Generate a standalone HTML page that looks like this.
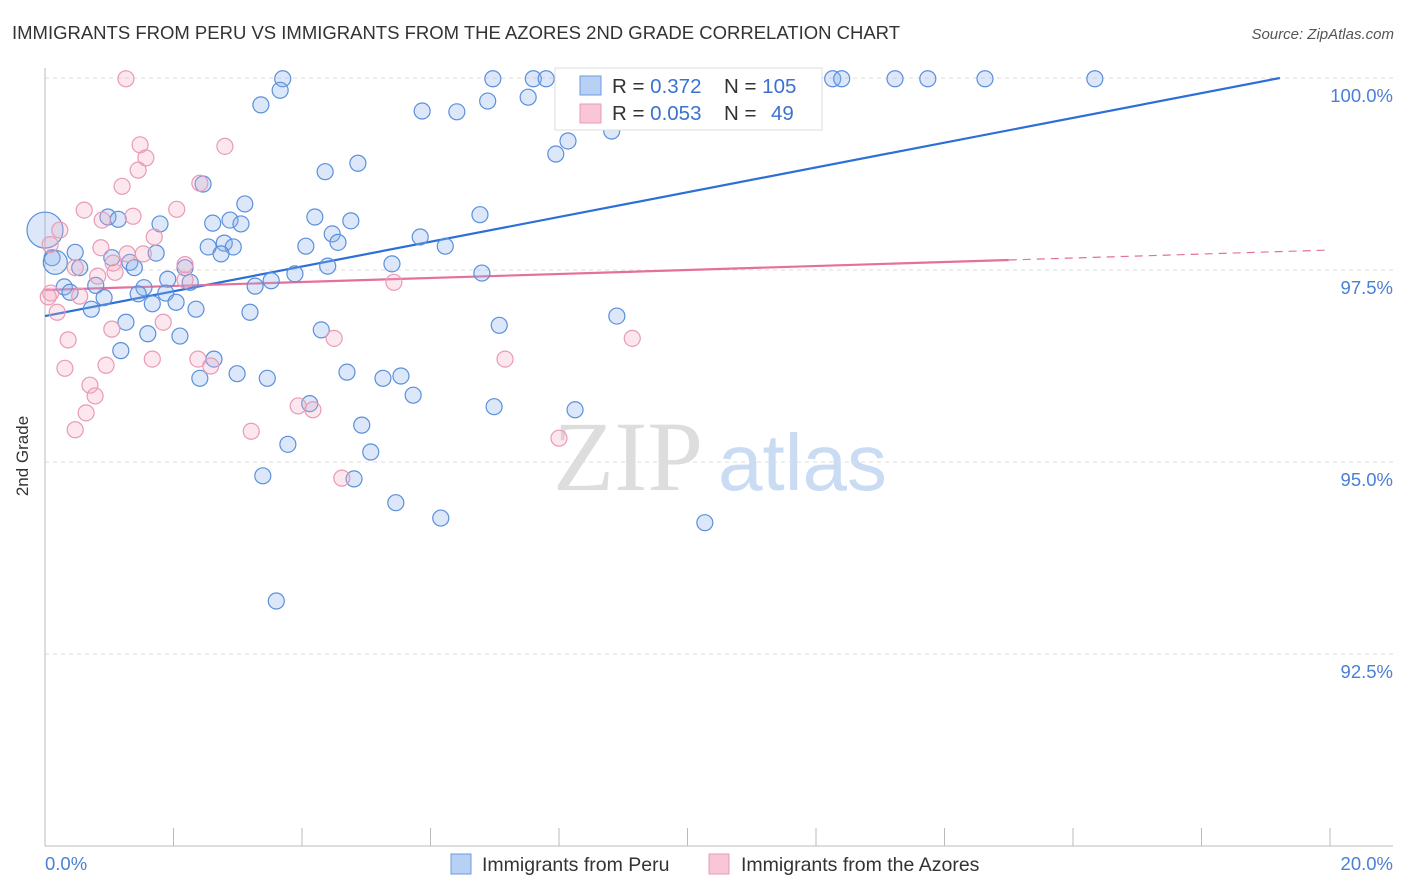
<!DOCTYPE html>
<html><head><meta charset="utf-8">
<style>
body{margin:0;background:#fff;font-family:"Liberation Sans",sans-serif;}
svg{display:block}
</style></head>
<body>
<svg id="chart" width="1406" height="892" xmlns="http://www.w3.org/2000/svg">
<text x="12" y="39" font-size="18.5" fill="#333" textLength="888" lengthAdjust="spacingAndGlyphs">IMMIGRANTS FROM PERU VS IMMIGRANTS FROM THE AZORES 2ND GRADE CORRELATION CHART</text>
<text x="1394" y="39" font-size="15" fill="#555" font-style="italic" text-anchor="end">Source: ZipAtlas.com</text>
<g>
<text x="553" y="490" font-size="100" fill="#ddd" font-family="Liberation Serif,serif">ZIP</text>
<text x="718" y="490" font-size="80" fill="#c9dcf3">atlas</text>
</g>
<g id="grid"></g>
<g id="axes"></g>
<g id="trend"></g>
<g id="pts"></g>
<text x="28" y="456" font-size="17" fill="#333" transform="rotate(-90 28 456)" text-anchor="middle">2nd Grade</text>
<g>
<rect x="555" y="68" width="267" height="62" fill="#fff" stroke="#ddd"/>
<rect x="580" y="76" width="21" height="19" fill="#b7d0f3" stroke="#6d9be0"/>
<rect x="580" y="104" width="21" height="19" fill="#f8c6d6" stroke="#e99ab5"/>
<text x="612" y="93" font-size="20.5" fill="#333">R = <tspan fill="#3b72d0">0.372</tspan><tspan x="724">N = </tspan><tspan fill="#3b72d0">105</tspan></text>
<text x="612" y="120" font-size="20.5" fill="#333">R = <tspan fill="#3b72d0">0.053</tspan><tspan x="724">N = </tspan><tspan x="771" fill="#3b72d0">49</tspan></text>
</g>
<g>
<rect x="451" y="854" width="20" height="20" fill="#b7d0f3" stroke="#6d9be0"/>
<text x="482" y="871" font-size="19.5" fill="#333">Immigrants from Peru</text>
<rect x="709" y="854" width="20" height="20" fill="#f8c6d6" stroke="#e99ab5"/>
<text x="741" y="871" font-size="19.5" fill="#333">Immigrants from the Azores</text>
</g>
</svg>
<script>
const blueX=[3.70,6.97,7.60,7.80,9.53,12.26,12.40,13.23,13.74,14.63,16.34,3.66,7.52,6.89,3.36,5.87,6.41,8.82,8.14,7.95,4.87,4.36,2.46,3.11,0.98,1.14,4.20,4.76,6.77,2.61,2.88,1.79,3.05,4.47,5.84,4.56,4.06,2.79,2.93,2.54,6.23,2.74,1.73,0.47,0.11,1.04,1.32,5.40,4.40,0.54,1.39,2.18,3.89,6.80,3.52,1.91,2.26,3.27,0.30,0.79,0.39,1.54,1.45,0.92,1.88,2.04,1.67,0.72,2.35,3.19,1.26,7.07,8.90,4.30,1.60,2.10,1.18,2.63,2.99,2.41,3.46,4.70,5.26,5.54,5.73,6.99,4.12,8.25,4.93,3.78,5.07,3.39,4.81,5.46,6.16,10.27,3.60];
const blueY=[99.99,99.99,99.99,99.99,99.99,99.99,99.99,99.99,99.99,99.99,99.99,99.84,99.75,99.70,99.65,99.57,99.56,99.31,99.18,99.01,98.89,98.78,98.62,98.36,98.19,98.16,98.19,98.14,98.22,98.11,98.15,98.10,98.10,97.97,97.93,97.86,97.81,97.85,97.80,97.80,97.81,97.71,97.72,97.73,97.66,97.66,97.60,97.58,97.55,97.53,97.53,97.53,97.45,97.46,97.36,97.38,97.34,97.29,97.28,97.30,97.21,97.27,97.19,97.14,97.20,97.08,97.06,96.99,96.99,96.95,96.82,96.78,96.90,96.72,96.67,96.64,96.45,96.34,96.15,96.09,96.09,96.17,96.09,96.12,95.87,95.72,95.76,95.68,95.48,95.23,95.13,94.82,94.78,94.47,94.27,94.21,93.19];
const blueBigX=[0.0,0.16];
const blueBigY=[98.02,97.60];
const blueBigR=[18,12];
const pinkX=[1.26,1.48,1.57,2.80,1.45,1.20,2.41,0.61,2.05,1.37,0.89,0.23,0.08,1.70,0.87,1.28,1.53,1.06,2.18,0.47,0.82,1.09,2.18,0.09,0.54,0.19,1.84,1.04,4.50,0.36,9.14,1.67,2.38,0.95,2.58,0.31,7.16,5.43,0.70,0.78,3.94,4.17,0.64,0.47,3.21,8.00,4.62,0.05];
const pinkY=[99.99,99.13,98.96,99.11,98.80,98.59,98.63,98.28,98.29,98.20,98.15,98.02,97.83,97.93,97.79,97.71,97.71,97.59,97.57,97.53,97.42,97.47,97.37,97.20,97.16,96.95,96.82,96.73,96.61,96.59,96.61,96.34,96.34,96.26,96.25,96.22,96.34,97.34,96.00,95.86,95.73,95.68,95.64,95.42,95.40,95.31,94.79,97.15];
const yTicks=[100,97.5,95,92.5];
const yTickLabels=["100.0%","97.5%","95.0%","92.5%"];
const xTicks=[0,2,4,6,8,10,12,14,16,18,20];
const blueTrend=[96.90,100.0,19.22];
const pinkTrend=[97.24,97.76,15];

const NS="http://www.w3.org/2000/svg";
const X=v=>45+v*64.25;
const Y=v=>78+(100-v)*76.8;
function mk(parent,tag,attrs){const e=document.createElementNS(NS,tag);for(const k in attrs)e.setAttribute(k,attrs[k]);document.getElementById(parent).appendChild(e);return e;}

yTicks.forEach((t,i)=>{
 const l=mk('grid','line',{x1:45,x2:1393,y1:Y(t),y2:Y(t),stroke:'#ddd','stroke-dasharray':'4,4'});
 
 
 const tx=mk('axes','text',{x:1393,y:Y(t)+24,'font-size':18.5,fill:'#4a7fd6','text-anchor':'end'});
 tx.textContent=yTickLabels[i];
 
 
});
const ax=mk('axes','line',{x1:45,x2:1393,y1:846,y2:846,stroke:'#bbb'});


const ay=mk('axes','line',{x1:45,x2:45,y1:68,y2:846,stroke:'#bbb'});


xTicks.forEach(t=>{
 const l=mk('axes','line',{x1:X(t),x2:X(t),y1:828,y2:846,stroke:'#bbb'});
 
 
});
const xl0=mk('axes','text',{x:45,y:870,'font-size':18.5,fill:'#4a7fd6'});xl0.textContent=xTicks[0].toFixed(1)+'%';


const xl1=mk('axes','text',{x:1393,y:870,'font-size':18.5,fill:'#4a7fd6','text-anchor':'end'});xl1.textContent=xTicks[xTicks.length-1].toFixed(1)+'%';



blueX.forEach((x,i)=>{
 const c=mk('pts','circle',{cx:X(x),cy:Y(blueY[i]),r:8,fill:'rgba(140,180,235,0.3)',stroke:'#5b8fdc','stroke-width':1.2});
 
 
});
blueBigX.forEach((x,i)=>{
 const c=mk('pts','circle',{cx:X(x),cy:Y(blueBigY[i]),r:blueBigR[i],fill:'rgba(140,180,235,0.3)',stroke:'#5b8fdc','stroke-width':1.2});
 
 
});
pinkX.forEach((x,i)=>{
 const c=mk('pts','circle',{cx:X(x),cy:Y(pinkY[i]),r:8,fill:'rgba(245,170,195,0.28)',stroke:'#e99ab5','stroke-width':1.2});
 
 
});
const bl=mk('trend','line',{x1:X(0),y1:Y(blueTrend[0]),x2:X(blueTrend[2]),y2:Y(blueTrend[1]),stroke:'#2c6fd6','stroke-width':2.2});


const ps=(pinkTrend[1]-pinkTrend[0])/20;
const pl=mk('trend','line',{x1:X(0),y1:Y(pinkTrend[0]),x2:X(pinkTrend[2]),y2:Y(pinkTrend[0]+ps*pinkTrend[2]),stroke:'#e5709a','stroke-width':2.2});


const pd=mk('trend','line',{x1:X(pinkTrend[2]),y1:Y(pinkTrend[0]+ps*pinkTrend[2]),x2:X(20),y2:Y(pinkTrend[1]),stroke:'#e5709a','stroke-width':1.2,'stroke-dasharray':'8,6'});


</script>
</body></html>
